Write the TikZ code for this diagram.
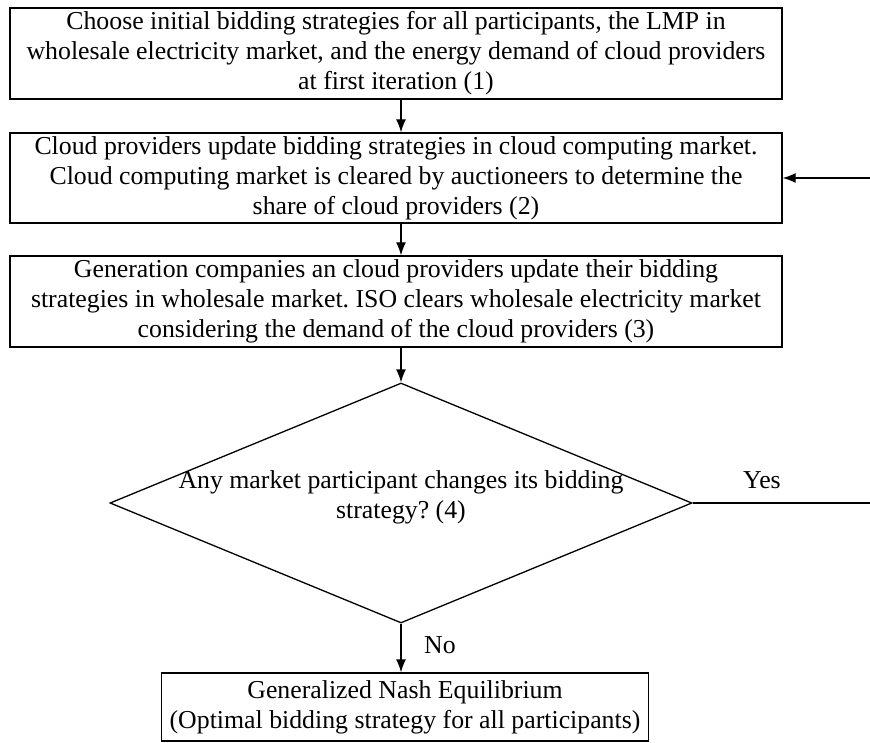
\documentclass[tikz,border=0pt]{standalone}
\usepackage{fontspec}
\setmainfont{Liberation Serif}
\usetikzlibrary{shapes.geometric,arrows.meta}
\frenchspacing
\begin{document}
\begin{tikzpicture}[x=1pt,y=-1pt,
  txt/.style={font=\fontsize{25.8}{30}\selectfont},
  stepbox/.style={draw, line width=1.3pt, inner sep=0pt, align=flush center, txt,
    minimum width=772pt, text width=772pt},
  line/.style={line width=1.3pt},
  arr/.style={line, -{Latex[length=13pt,width=10pt]}}]
\useasboundingbox (0,0) rectangle (870,743);

% process boxes
\node[stepbox, minimum height=91pt] (b1) at (396,53.5)
  {Choose initial bidding strategies for all participants, the LMP in\\
   wholesale electricity market, and the energy demand of cloud providers\\
   at first iteration (1)};
\node[stepbox, minimum height=90pt] (b2) at (396,178)
  {Cloud providers update bidding strategies in cloud computing market.\\
   Cloud computing market is cleared by auctioneers to determine the\\
   share of cloud providers (2)};
\node[stepbox, minimum height=91pt] (b3) at (396,301.5)
  {Generation companies an cloud providers update their bidding\\
   strategies in wholesale market. ISO clears wholesale electricity market\\
   considering the demand of the cloud providers (3)};

% decision
\node[diamond, draw, line width=1.3pt, inner sep=0pt,
  minimum width=582pt, minimum height=240pt] (d) at (401,503) {};
\node[txt, align=flush center] (dtext) at (401,497)
  {Any market participant changes its bidding\\strategy? (4)};

% result
\node[draw, line width=1.3pt, txt, align=flush center, inner xsep=8pt, inner ysep=0pt,
  minimum height=68pt] (b4) at (405,707)
  {Generalized Nash Equilibrium\\(Optimal bidding strategy for all participants)};

% connectors
\draw[arr] (b1.south -| d.north) -- (b2.north -| d.north);
\draw[arr] (b2.south -| d.north) -- (b3.north -| d.north);
\draw[arr] (b3.south -| d.north) -- (d.north);
\draw[arr] (d.south) -- (d.south |- b4.north);

\coordinate (yesend) at (870,503);
\coordinate (backstart) at (870,178);
\draw[line] (d.east) -- (yesend);
\draw[arr] (backstart) -- (b2.east);

\node[txt, anchor=base] (yes) at (762,488) {Yes};
\node[txt, anchor=base] (no) at (440,653) {No};
\end{tikzpicture}
\end{document}
